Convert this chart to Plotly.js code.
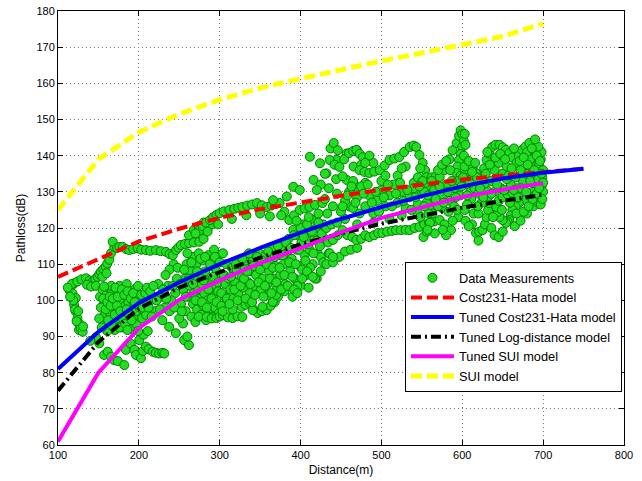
<!DOCTYPE html>
<html>
<head>
<meta charset="utf-8">
<script src="https://cdn.plot.ly/plotly-3.0.1.min.js"></script>
<style>html,body{margin:0;padding:0;background:#fff;}#chart{width:642px;height:481px;}</style>
</head>
<body>
<div id="chart"></div>
<script>
// Model distances (m)
const modelDist = [100,150,200,250,300,350,400,450,500,550,600,650,700];
const modelDistLong = [100,150,200,250,300,350,400,450,500,550,600,650,700,750];
// Model path loss (dB)
const cost231Hata = [106.5,111.5,116.3,119.8,122.8,125.2,127.1,128.9,130.6,132.1,133.4,134.5,135.5,136.4];
const tunedCost231 = [81,91.3,99.3,105,110,114.5,118.7,122.5,125.8,128.8,131.5,133.7,135.3,136.4];
const tunedLogDist = [75,88.5,97.7,103.5,107.8,111.8,115.5,118.5,121.2,123.5,125.6,127.5,129.2];
const tunedSUI = [61,80,92.3,100.2,105.5,110.3,114.4,118.8,122.8,125.8,128.6,130.6,132.4];
const suiModel = [125,139,146.5,151.5,155.5,158.7,161.3,163.8,166.2,168.4,170.6,173,176.5];

// Measured points [distance, pathloss]
const measLeft = [[114,102.9],[116,103.8],[118,101.9],[120,104.7],[120,98.7],[122,100.6],[122,96.9],[124,95],[126,93.6],[126,91.8],[128,92.3],[130.5,91.3],[119,100],[121,97.5],[123,94.2],[117,104.5],[112,103.5],[115,101],[125,97],[131,92.8]];
const measUpperLeft = [[124,105.2],[129,105.8],[134.6,106.1],[139,105.5],[143,105.2],[146,105.8],[149,106.5],[151,107.2],[153,107.9],[156,108.6],[159,109.3],[161,110.2],[163.5,111.2],[165.5,113],[169.6,114.8],[167.6,116.2],[173,114.5],[176,114.8],[180,114.8],[184,114.2],[188,113.9],[193,114.2],[198.5,114.4],[203,114],[208.8,113.9],[214,113.7],[221,113.9],[227,113.6],[233.6,113.4],[238,112.8],[242,112.5],[246,113.9],[249,114.6],[252,115.3],[257,115.6],[262,115.8],[268,116],[274.7,116.2],[280,117],[136,104.3],[141,103.8],[147,104],[155,106.5],[160,107.5],[262,118],[268,119.5],[274,120.5],[280,121.5],[285,120],[290,121]];
const measBlob = [[152,101],[155,103],[157,99],[158,96],[160,101.5],[160,94],[162,98],[163,103.5],[164,92.5],[165,96],[166,100],[167,102.5],[168,94.5],[169,98],[170,91.8],[171,101],[172,96.5],[173,103],[174,93.5],[175,99],[176,95],[177,101.5],[178,97.5],[179,92.5],[180,100],[181,103.5],[182,95.5],[183,98.5],[184,93],[185,101],[186,96.5],[187,99.5],[188,94],[189,102],[190,97],[191,92],[192,100],[193,95],[194,98],[195,103],[196,96],[197,93.5],[198,99.5],[199,101.5],[200,95.5],[156,93],[161,91.5],[166,104],[176,104],[185,104.5]];
const measBlob2 = [[151,95],[153,98],[154,92.5],[156,100.5],[157,103.8],[159,97.5],[161,99.5],[162,94.5],[164,101],[165,98.5],[167,93],[168,100.5],[170,96],[171,103.5],[173,98.5],[174,101],[176,92.5],[177,97],[179,103],[180,95],[182,101.5],[183,93.5],[185,97.5],[186,102.5],[188,96],[190,100.5],[191,94.5],[193,102],[195,99.5],[197,97],[199,104],[201,98],[203,101.5],[204,95],[206,99],[208,102],[209,96]];
const measLow = [[151,88.1],[157,84.9],[161.5,85.8],[165.5,84.4],[169,83.5],[174,83.2],[182,82.1],[184,86.3],[186,91.8],[190,88],[194.4,86.3],[196.5,84.9],[200.5,89],[202.6,84],[205,86],[208.8,87.2],[212,86.5],[217,85.8],[221,85.5],[225,85.3],[229,85.5],[231.5,85.3],[206,90.5],[211,91.5],[199,91.5],[147,89.8],[140,88.8],[229,94.5],[237.5,92.7],[245.8,90.9],[256,89],[262,87.6],[260,90],[254.6,93.6]];
const measMid = [[250,95],[252,99],[255,103],[257,106],[258,97],[259,110],[261,101],[263,104],[264,108],[265,95.5],[266,112],[267,99],[268,102],[269,106.5],[270,94],[271,110],[272,97.5],[273,103],[274,113],[275,100.5],[276,107.5],[277,96],[278,104.5],[279,111],[280,98.5],[281,102],[282,108],[283,94.5],[284,105.5],[285,100],[286,112.5],[287,97],[288,103.5],[289,109.5],[290,95.5],[291,106],[292,101],[293,114],[294,98],[295,104],[296,108],[297,111],[298,102.5],[299,96.5],[300,106.5],[245,102],[240,100],[236,104],[232,98],[228,101],[224,104.5],[220,97],[215,100],[210,103.5],[205,98],[247,106],[243,110],[238,108.5],[233,107]];
const measMid2 = [[212,98],[214,102.5],[216,95.5],[218,104],[222,100],[226,97.5],[230,103],[234,100.5],[238,97],[242,104],[244,98],[248,109],[251,104.5],[253,97],[256,108.5],[258,101],[260,113],[262,106],[265,110.5],[267,104.5],[270,100],[272,108],[274,95.5],[276,111.5],[278,99.5],[280,105.5],[282,112],[284,98],[286,103],[288,110],[290,100.5],[292,106.5],[294,112],[296,99.5],[298,105],[300,110.5],[302,98.5],[304,113],[306,101],[308,110]];
const measBottom = [[284,95.4],[290,95],[296,95.1],[300,95.5],[304,95.9],[310,95.3],[316,95.1],[322,95.6],[328,95.4],[327,98.2],[332,98.8],[337,99.3],[342,97.5],[347,96.5],[352,97],[358,97.3],[363,98.5],[368,99.5],[372,101],[303.6,97],[316,97.5],[340.7,97.3],[353,98.2],[365.6,99.6],[369.7,101.5]];
const measBand = [[302,102],[305,107],[307,104.5],[309,100.5],[311,106],[313,103],[315,109],[317,100.5],[319,105],[321,108.5],[323,102],[325,110],[327,106.5],[329,103.5],[331,109],[333,111],[335,105],[337,102],[339,108],[341,112],[343,104],[345,107],[347,110.5],[349,113],[351,103],[353,106],[355,109.5],[357,112.5],[359,104.5],[361,108],[363,111],[365,114.5],[367,106],[369,109.5],[371,103.5],[373,112.5],[375,107],[377,115],[379,110],[381,104.5],[383,113],[385,117],[387,108],[389,111.5],[391,119.5],[393,106],[395,114],[397,118],[399,109.5],[401,116],[403,121],[405,112.5],[407,107],[409,118.5],[411,114],[413,122.5],[415,110],[417,117],[419,120],[421,113],[425,112],[430,117],[435,113],[428,121],[433,124],[380,102.5],[400,104],[420,106],[410,103.5],[390,101],[360,101.5]];
const measBand2 = [[312,99],[314,106.5],[318,103],[320,110],[322,100],[326,104],[328,111.5],[330,106],[332,100.5],[334,108],[336,113],[338,104.5],[340,99.5],[342,109.5],[344,101.5],[346,112],[348,105],[350,108.5],[352,111],[354,101],[356,104],[358,110],[360,113.5],[362,106],[364,102],[366,109],[368,112],[370,105],[372,115],[374,109],[376,103],[378,112.5],[380,107],[382,116],[384,104],[386,110.5],[388,114.5],[390,106.5],[392,118],[394,110],[396,104],[398,114],[400,120],[402,108.5],[404,117.5],[406,111],[408,121],[410,115.5],[412,109],[414,119],[416,113],[418,106],[420,116.5],[422,121.5],[424,115],[426,118.5],[428,110.5],[432,120],[434,116],[438,121],[392,103],[396,102],[402,106],[408,108],[415,106.5],[425,108],[432,110],[440,110.5],[448,112],[455,113.5],[462,114],[470,114.5]];
const measUpperChain = [[275,119.4],[279,120.5],[283,121.5],[288,122.2],[292,123],[296,123.6],[300,124.1],[305,124.6],[312,125],[318,125.3],[323,125.6],[328,125.8],[334,126.2],[340,126.5],[346,126.9],[352,126.3],[358,125.8],[364,126.2],[369,126.6],[374,126.9],[380,124.5],[386,122.2],[392,123.5],[399,125],[405,125.4],[411,125.8],[418,126.4],[427,126.9],[270,118.5],[285,119],[298,121],[315,122.5],[333,123.5],[350,124],[362,123.2],[376,123.5],[395,122],[410,123],[422,124],[366,127.7],[383,128.7],[391,131.4],[399,130.5],[411.5,139.7],[416,133.3],[424,137.9],[432,135.1],[444.7,138.8],[457,140.6],[469.6,141.5],[465.5,137],[457,133.3],[461,125.9],[469.6,131.4],[437,142],[441,143.5],[446,141.5],[430,135],[425,132],[420,130.5]];
const measUpperRight = [[436,138.8],[442,137.5],[448,136.9],[454,139],[460,140.7],[465,141.3],[469,141.6],[473,140.5],[477,139.6],[475,137.5],[473,136],[479,135.5],[485,135.2],[491,135.6],[498,136],[504,137.3],[510,138.8],[516,139.2],[522,139.6],[528,141],[535,142.4],[540,142.8],[543,142.4],[547,140.2],[551,138],[554,136],[556,134.1],[562,134],[567,134.2],[572,134.1],[578,136],[584,139],[588,141.5],[593,143.5],[596,145.5],[598,147],[600,146],[602,144],[600,142.4],[598,140.5],[596,138.8],[594,137],[593,135.2],[598,134.5],[603,134.8],[609,134.1],[613,134.6],[617,135.2],[595,133],[590,131],[605,132],[610,130],[444,133.5],[452,134.3],[465,133],[480,132.5],[500,133],[520,134.5],[540,132.5],[560,131.5],[597,129],[599,131.5],[601,134],[603,137],[602,140],[604,143],[603,146]];
const measLowerRight = [[436,113],[440,112],[440,116.7],[446,118],[452,119.4],[458,118],[464,117.5],[469,116.7],[475,117],[480,118],[485,117.5],[491,118],[496,118.6],[501,118.6],[507,119],[513,119.2],[518,119.4],[524,119.4],[530,119.5],[535,119.4],[541,120],[547,120.3],[553,121],[559,121.4],[565,121.8],[572,122.2],[578,121],[586,119.4],[445,121.5],[455,122.5],[470,121],[490,121.5],[510,122.5],[525,123.5],[545,124],[560,125],[575,125.5],[583,124.5],[430,128],[435,131],[440,126],[445,129.5],[450,124.5],[455,127.5],[460,130],[465,125.5],[470,128.5],[475,131.5],[480,126],[485,129],[490,124],[495,127.5],[500,130.5],[505,126],[510,129],[515,132],[520,127],[525,130],[530,125.5],[535,128.5],[540,131],[545,126.5],[550,129.5],[555,132.5],[560,127.5],[565,130.5],[570,126],[575,129],[580,132],[585,127.5],[590,126],[595,123],[588,122],[580,118],[576,119.5],[566,118.5],[552,117.5],[548,123],[556,119],[563,124],[545,134],[548,136.5],[551,133],[553,130],[556,127],[558,124],[560,121.5],[557,119.5]];
const measMidRight2 = [[452,126],[458,129],[463,131.5],[468,127],[473,124],[478,129.5],[483,132],[488,127],[493,130],[497,124.5],[503,128.5],[508,132],[513,126],[518,129.5],[523,132.5],[527,127.5],[532,130.5],[537,125],[542,128.5],[547,131.5],[553,126],[558,129],[562,133],[567,128],[572,131.5],[577,127],[582,130],[587,133],[592,128.5],[594,125],[570,136],[575,137.5],[580,138.5],[585,136],[530,137],[525,136.5],[505,134.5],[490,138],[485,140],[480,138]];
const measFar = [[617,118.6],[621,119],[625,119.4],[628,121],[630,123],[632,125],[633,126.9],[632,128.7],[630,130.5],[628,132.3],[625,134.1],[627,136.5],[630,138.8],[633,140.6],[637,142.4],[641,143],[646,143],[650,142.3],[654,141.6],[658,140.7],[662,139.5],[667,138],[670,140],[674,141.6],[678,142.5],[683,143.5],[686,140.7],[689,139.5],[691,138],[693,136],[695,134.1],[693,132.7],[691,131.3],[687,130],[683,128.6],[677,127.7],[670,126.9],[666,126],[662,125],[660,123.5],[658,122.2],[656,121.8],[654,121.4],[650,122.2],[646,123],[644,124.4],[642,125.8],[645,127.5],[650,128.5],[656,129.3],[662,129.7],[668,131],[675,133],[680,135],[685,137],[690,135.5],[695,137.5],[697,139],[698,131.5],[696,129],[699,134],[688,133],[684,139],[680,141],[672,136],[666,134],[660,132],[655,133.5],[648,131],[640,130],[636,133],[640,136],[645,138],[650,135],[655,137],[612,121],[614,124],[611,128],[615,131],[620,129.5],[624,127],[620,124],[618,134],[613,137],[608,138.5],[606,126.5],[604,122],[608,120.5],[620,116.5],[636,120],[640,118],[645,117.5],[650,119],[665,120.5],[672,122],[680,124],[688,126],[694,127],[700,130],[700,136],[698,141],[694,142.5],[690,144.5]];
const measFar2 = [[603,125],[606,129],[609,132.5],[612,135.5],[616,138],[619,126],[622,131],[626,128.5],[629,135],[631,141],[634,137.5],[636,129.5],[638,123],[641,139.5],[643,132],[647,140.5],[649,125],[652,130.5],[653,139],[657,134.5],[659,127],[661,136.5],[664,142],[664,130.5],[667,124],[669,128.5],[671,138.5],[673,131],[676,139.5],[676,124.5],[679,130],[681,137.5],[682,126],[684,133],[686,142],[687,128],[689,136],[692,129.5],[692,140],[694,133.5],[696,138.5],[697,126.5],[698,135],[700,132.5],[699,128],[695,131]];

const measured = [].concat(measLeft, measUpperLeft, measBlob, measBlob2, measLow, measMid, measMid2, measBottom, measBand, measBand2, measUpperChain, measUpperRight, measLowerRight, measMidRight2, measFar, measFar2);
const measDist = measured.map(p => p[0]);
const measLoss = measured.map(p => p[1]);

const traces = [
  {x: measDist, y: measLoss, mode: 'markers', type: 'scatter', name: 'Data Measurements',
   marker: {size: 9, color: '#22dd22', line: {color: '#008000', width: 1}}},
  {x: modelDistLong, y: cost231Hata, mode: 'lines', name: 'Cost231-Hata model',
   line: {color: '#ff0000', width: 4, dash: '11px,5px'}},
  {x: modelDistLong, y: tunedCost231, mode: 'lines', name: 'Tuned Cost231-Hata model',
   line: {color: '#0000ff', width: 4}},
  {x: modelDist, y: tunedLogDist, mode: 'lines', name: 'Tuned Log-distance model',
   line: {color: '#000000', width: 4, dash: '10px,4px,2px,4px'}},
  {x: modelDist, y: tunedSUI, mode: 'lines', name: 'Tuned SUI model',
   line: {color: '#ff00ff', width: 4}},
  {x: modelDist, y: suiModel, mode: 'lines', name: 'SUI model',
   line: {color: '#ffff00', width: 5, dash: '11px,5px'}}
];

const axisCommon = {
  showline: true, linecolor: '#000', linewidth: 1, mirror: 'allticks',
  ticks: 'inside', ticklen: 5, tickcolor: '#000', tickwidth: 1,
  showgrid: true, gridcolor: '#777', griddash: '1px,3px', gridwidth: 1,
  zeroline: false, automargin: false,
  tickfont: {family: 'Liberation Sans, Arial, sans-serif', size: 11, color: '#000'}
};

const layout = {
  width: 642, height: 481,
  margin: {l: 58, r: 18, t: 11, b: 36},
  paper_bgcolor: '#fff', plot_bgcolor: '#fff',
  font: {family: 'Liberation Sans, Arial, sans-serif', size: 12, color: '#000'},
  xaxis: Object.assign({}, axisCommon, {
    range: [100, 800], dtick: 100, tick0: 100,
    title: {text: 'Distance(m)', font: {size: 12}, standoff: 5}
  }),
  yaxis: Object.assign({}, axisCommon, {
    range: [60, 180], dtick: 10, tick0: 60,
    title: {text: 'Pathloss(dB)', font: {size: 12}, standoff: 8}
  }),
  legend: {
    x: 0.613, y: 0.4217, xanchor: 'left', yanchor: 'top',
    bgcolor: '#fff', bordercolor: '#000', borderwidth: 1,
    font: {size: 12.8, color: '#000'}, itemwidth: 43,
    tracegroupgap: 0
  },
  showlegend: true
};

Plotly.newPlot('chart', traces, layout, {displayModeBar: false, staticPlot: true});
</script>
</body>
</html>
